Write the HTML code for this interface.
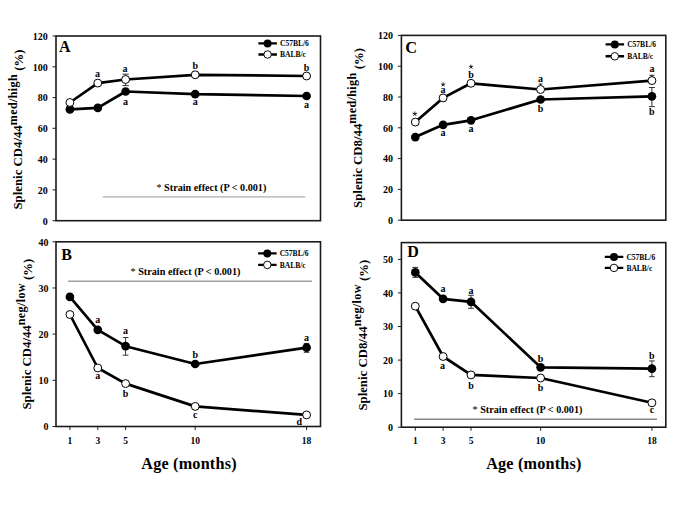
<!DOCTYPE html>
<html><head><meta charset="utf-8"><style>html,body{margin:0;padding:0;background:#fff;}body{width:685px;height:512px;overflow:hidden;font-family:"Liberation Serif",serif;}svg{display:block;}</style></head><body>
<svg width="685" height="512" viewBox="0 0 685 512" font-family='"Liberation Serif", serif' font-weight="bold" fill="#000">
<rect width="685" height="512" fill="#fff"/>
<rect x="56.0" y="36.0" width="264.5" height="184.7" fill="none" stroke="#1a1a1a" stroke-width="1.6"/><path d="M52.5 220.7H56.0" stroke="#222" stroke-width="1"/><text x="47.7" y="224.5" font-size="10" text-anchor="end" >0</text><path d="M52.5 189.9H56.0" stroke="#222" stroke-width="1"/><text x="47.7" y="193.7" font-size="10" text-anchor="end" >20</text><path d="M52.5 159.1H56.0" stroke="#222" stroke-width="1"/><text x="47.7" y="162.9" font-size="10" text-anchor="end" >40</text><path d="M52.5 128.3H56.0" stroke="#222" stroke-width="1"/><text x="47.7" y="132.2" font-size="10" text-anchor="end" >60</text><path d="M52.5 97.6H56.0" stroke="#222" stroke-width="1"/><text x="47.7" y="101.4" font-size="10" text-anchor="end" >80</text><path d="M52.5 66.8H56.0" stroke="#222" stroke-width="1"/><text x="47.7" y="70.6" font-size="10" text-anchor="end" >100</text><path d="M52.5 36.0H56.0" stroke="#222" stroke-width="1"/><text x="47.7" y="39.8" font-size="10" text-anchor="end" >120</text>
<rect x="56.0" y="241.8" width="264.5" height="184.7" fill="none" stroke="#1a1a1a" stroke-width="1.6"/><path d="M52.5 426.5H56.0" stroke="#222" stroke-width="1"/><text x="48.6" y="430.3" font-size="10" text-anchor="end" >0</text><path d="M52.5 380.3H56.0" stroke="#222" stroke-width="1"/><text x="48.6" y="384.1" font-size="10" text-anchor="end" >10</text><path d="M52.5 334.1H56.0" stroke="#222" stroke-width="1"/><text x="48.6" y="337.9" font-size="10" text-anchor="end" >20</text><path d="M52.5 288.0H56.0" stroke="#222" stroke-width="1"/><text x="48.6" y="291.8" font-size="10" text-anchor="end" >30</text><path d="M52.5 241.8H56.0" stroke="#222" stroke-width="1"/><text x="48.6" y="245.6" font-size="10" text-anchor="end" >40</text><path d="M69.9 426.5V430.0" stroke="#222" stroke-width="1"/><text x="69.9" y="444.3" font-size="9.5" text-anchor="middle" >1</text><path d="M97.8 426.5V430.0" stroke="#222" stroke-width="1"/><text x="97.8" y="444.3" font-size="9.5" text-anchor="middle" >3</text><path d="M125.6 426.5V430.0" stroke="#222" stroke-width="1"/><text x="125.6" y="444.3" font-size="9.5" text-anchor="middle" >5</text><path d="M195.2 426.5V430.0" stroke="#222" stroke-width="1"/><text x="195.2" y="444.3" font-size="9.5" text-anchor="middle" >10</text><path d="M306.6 426.5V430.0" stroke="#222" stroke-width="1"/><text x="306.6" y="444.3" font-size="9.5" text-anchor="middle" >18</text>
<rect x="401.4" y="35.4" width="264.4" height="184.8" fill="none" stroke="#1a1a1a" stroke-width="1.6"/><path d="M397.9 220.2H401.4" stroke="#222" stroke-width="1"/><text x="393.1" y="224.0" font-size="10" text-anchor="end" >0</text><path d="M397.9 189.4H401.4" stroke="#222" stroke-width="1"/><text x="393.1" y="193.2" font-size="10" text-anchor="end" >20</text><path d="M397.9 158.6H401.4" stroke="#222" stroke-width="1"/><text x="393.1" y="162.4" font-size="10" text-anchor="end" >40</text><path d="M397.9 127.8H401.4" stroke="#222" stroke-width="1"/><text x="393.1" y="131.6" font-size="10" text-anchor="end" >60</text><path d="M397.9 97.0H401.4" stroke="#222" stroke-width="1"/><text x="393.1" y="100.8" font-size="10" text-anchor="end" >80</text><path d="M397.9 66.2H401.4" stroke="#222" stroke-width="1"/><text x="393.1" y="70.0" font-size="10" text-anchor="end" >100</text><path d="M397.9 35.4H401.4" stroke="#222" stroke-width="1"/><text x="393.1" y="39.2" font-size="10" text-anchor="end" >120</text>
<rect x="401.4" y="242.6" width="264.4" height="184.6" fill="none" stroke="#1a1a1a" stroke-width="1.6"/><path d="M397.9 427.2H401.4" stroke="#222" stroke-width="1"/><text x="393.1" y="431.0" font-size="10" text-anchor="end" >0</text><path d="M397.9 393.6H401.4" stroke="#222" stroke-width="1"/><text x="393.1" y="397.4" font-size="10" text-anchor="end" >10</text><path d="M397.9 360.1H401.4" stroke="#222" stroke-width="1"/><text x="393.1" y="363.9" font-size="10" text-anchor="end" >20</text><path d="M397.9 326.5H401.4" stroke="#222" stroke-width="1"/><text x="393.1" y="330.3" font-size="10" text-anchor="end" >30</text><path d="M397.9 292.9H401.4" stroke="#222" stroke-width="1"/><text x="393.1" y="296.7" font-size="10" text-anchor="end" >40</text><path d="M397.9 259.4H401.4" stroke="#222" stroke-width="1"/><text x="393.1" y="263.2" font-size="10" text-anchor="end" >50</text><path d="M415.3 427.2V430.7" stroke="#222" stroke-width="1"/><text x="415.3" y="444.3" font-size="9.5" text-anchor="middle" >1</text><path d="M443.1 427.2V430.7" stroke="#222" stroke-width="1"/><text x="443.1" y="444.3" font-size="9.5" text-anchor="middle" >3</text><path d="M471.0 427.2V430.7" stroke="#222" stroke-width="1"/><text x="471.0" y="444.3" font-size="9.5" text-anchor="middle" >5</text><path d="M540.6 427.2V430.7" stroke="#222" stroke-width="1"/><text x="540.6" y="444.3" font-size="9.5" text-anchor="middle" >10</text><path d="M651.9 427.2V430.7" stroke="#222" stroke-width="1"/><text x="651.9" y="444.3" font-size="9.5" text-anchor="middle" >18</text>
<text x="59.0" y="51.8" font-size="16" text-anchor="start" >A</text>
<text x="61.3" y="259.8" font-size="16" text-anchor="start" >B</text>
<text x="405.2" y="52.6" font-size="16.4" text-anchor="start" >C</text>
<text x="407.3" y="256.8" font-size="16" text-anchor="start" >D</text>
<path d="M258.4 43.4h18.5M258.4 54.5h18.5" stroke="#000" stroke-width="2.4"/><circle cx="267.6" cy="43.4" r="4.00" fill="#000"/><circle cx="267.6" cy="54.5" r="3.75" fill="#fff" stroke="#000" stroke-width="0.95"/><text x="280.0" y="46.2" font-size="7.6" text-anchor="start" letter-spacing="-0.05">C57BL/6</text><text x="280.0" y="57.4" font-size="7.6" text-anchor="start" letter-spacing="-0.05">BALB/c</text>
<path d="M258.1 253.4h18.5M258.1 264.9h18.5" stroke="#000" stroke-width="2.4"/><circle cx="267.3" cy="253.4" r="4.00" fill="#000"/><circle cx="267.3" cy="264.9" r="3.75" fill="#fff" stroke="#000" stroke-width="0.95"/><text x="279.7" y="256.2" font-size="7.6" text-anchor="start" letter-spacing="-0.05">C57BL/6</text><text x="279.7" y="267.8" font-size="7.6" text-anchor="start" letter-spacing="-0.05">BALB/c</text>
<path d="M605.6 44.4h18.5M605.6 56.3h18.5" stroke="#000" stroke-width="2.4"/><circle cx="614.8" cy="44.4" r="4.00" fill="#000"/><circle cx="614.8" cy="56.3" r="3.75" fill="#fff" stroke="#000" stroke-width="0.95"/><text x="627.2" y="47.2" font-size="7.6" text-anchor="start" letter-spacing="-0.05">C57BL/6</text><text x="627.2" y="59.1" font-size="7.6" text-anchor="start" letter-spacing="-0.05">BALB/c</text>
<path d="M604.8 256.9h18.5M604.8 267.9h18.5" stroke="#000" stroke-width="2.4"/><circle cx="614.0" cy="256.9" r="4.00" fill="#000"/><circle cx="614.0" cy="267.9" r="3.75" fill="#fff" stroke="#000" stroke-width="0.95"/><text x="626.4" y="259.8" font-size="7.6" text-anchor="start" letter-spacing="-0.05">C57BL/6</text><text x="626.4" y="270.8" font-size="7.6" text-anchor="start" letter-spacing="-0.05">BALB/c</text>
<path d="M102.7 196.9H305.3" stroke="#c4c4c4" stroke-width="1.8"/>
<text x="211.4" y="191.2" font-size="10.2" text-anchor="middle" ><tspan font-weight='normal'>*</tspan> Strain effect (P &lt; 0.001)</text>
<path d="M68 281.3H312" stroke="#a0a0a0" stroke-width="1.6"/>
<text x="185.5" y="275.4" font-size="10.2" text-anchor="middle" ><tspan font-weight='normal'>*</tspan> Strain effect (P &lt; 0.001)</text>
<path d="M414 419.3H657" stroke="#888" stroke-width="1.4"/>
<text x="527.5" y="413.0" font-size="10.2" text-anchor="middle" ><tspan font-weight='normal'>*</tspan> Strain effect (P &lt; 0.001)</text>
<path d="M125.6 74.2V85.6M122.4 74.2H128.8M122.4 85.6H128.8" stroke="#2a2a2a" stroke-width="0.95" fill="none"/>
<polyline points="69.9,109.4 97.8,107.9 125.6,91.5 195.2,94.2 306.6,96.0" fill="none" stroke="#000" stroke-width="2.7" stroke-linejoin="round"/>
<polyline points="69.9,102.5 97.8,83.1 125.6,79.5 195.2,74.8 306.6,76.0" fill="none" stroke="#000" stroke-width="2.7" stroke-linejoin="round"/>
<circle cx="69.9" cy="109.4" r="4.35" fill="#000"/>
<circle cx="97.8" cy="107.9" r="4.35" fill="#000"/>
<circle cx="125.6" cy="91.5" r="4.35" fill="#000"/>
<circle cx="195.2" cy="94.2" r="4.35" fill="#000"/>
<circle cx="306.6" cy="96.0" r="4.35" fill="#000"/>
<circle cx="69.9" cy="102.5" r="3.95" fill="#fff" stroke="#000" stroke-width="1.0"/>
<circle cx="97.8" cy="83.1" r="3.95" fill="#fff" stroke="#000" stroke-width="1.0"/>
<circle cx="125.6" cy="79.5" r="3.95" fill="#fff" stroke="#000" stroke-width="1.0"/>
<circle cx="195.2" cy="74.8" r="3.95" fill="#fff" stroke="#000" stroke-width="1.0"/>
<circle cx="306.6" cy="76.0" r="3.95" fill="#fff" stroke="#000" stroke-width="1.0"/>
<text x="97.5" y="77.0" font-size="10" text-anchor="middle" >a</text>
<text x="125.0" y="72.0" font-size="10" text-anchor="middle" >a</text>
<text x="195.2" y="69.0" font-size="10" text-anchor="middle" >b</text>
<text x="306.6" y="71.0" font-size="10" text-anchor="middle" >b</text>
<text x="125.6" y="105.0" font-size="10" text-anchor="middle" >a</text>
<text x="195.2" y="105.0" font-size="10" text-anchor="middle" >a</text>
<text x="306.6" y="108.0" font-size="10" text-anchor="middle" >a</text>
<path d="M125.6 337.5V355.2M122.8 337.5H128.4M122.8 355.2H128.4" stroke="#2a2a2a" stroke-width="0.95" fill="none"/>
<path d="M306.6 343.4V352.3M303.8 343.4H309.3M303.8 352.3H309.3" stroke="#2a2a2a" stroke-width="0.95" fill="none"/>
<polyline points="69.9,296.9 97.8,329.8 125.6,346.2 195.2,364.0 306.6,347.7" fill="none" stroke="#000" stroke-width="2.7" stroke-linejoin="round"/>
<polyline points="69.9,314.5 97.8,368.0 125.6,383.6 195.2,406.4 306.6,414.9" fill="none" stroke="#000" stroke-width="2.7" stroke-linejoin="round"/>
<circle cx="69.9" cy="296.9" r="4.35" fill="#000"/>
<circle cx="97.8" cy="329.8" r="4.35" fill="#000"/>
<circle cx="125.6" cy="346.2" r="4.35" fill="#000"/>
<circle cx="195.2" cy="364.0" r="4.35" fill="#000"/>
<circle cx="306.6" cy="347.7" r="4.35" fill="#000"/>
<circle cx="69.9" cy="314.5" r="3.95" fill="#fff" stroke="#000" stroke-width="1.0"/>
<circle cx="97.8" cy="368.0" r="3.95" fill="#fff" stroke="#000" stroke-width="1.0"/>
<circle cx="125.6" cy="383.6" r="3.95" fill="#fff" stroke="#000" stroke-width="1.0"/>
<circle cx="195.2" cy="406.4" r="3.95" fill="#fff" stroke="#000" stroke-width="1.0"/>
<circle cx="306.6" cy="414.9" r="3.95" fill="#fff" stroke="#000" stroke-width="1.0"/>
<text x="97.8" y="322.7" font-size="10" text-anchor="middle" >a</text>
<text x="125.6" y="333.5" font-size="10" text-anchor="middle" >a</text>
<text x="195.2" y="357.8" font-size="10" text-anchor="middle" >b</text>
<text x="306.6" y="340.6" font-size="10" text-anchor="middle" >a</text>
<text x="97.8" y="379.3" font-size="10" text-anchor="middle" >a</text>
<text x="125.6" y="397.0" font-size="10" text-anchor="middle" >b</text>
<text x="195.2" y="418.0" font-size="10" text-anchor="middle" >c</text>
<text x="299.3" y="425.4" font-size="10" text-anchor="middle" >d</text>
<path d="M651.9 87.5V106.6M648.9 87.5H654.9M648.9 106.6H654.9" stroke="#2a2a2a" stroke-width="0.95" fill="none"/>
<path d="M538.8 84H542.4M540.6 84V86" stroke="#000" stroke-width="0.9"/>
<path d="M649.4 75.3H654.4M651.9 75.3V78" stroke="#000" stroke-width="0.9"/>
<polyline points="415.3,137.1 443.1,124.8 471.0,120.3 540.6,99.5 651.9,96.3" fill="none" stroke="#000" stroke-width="2.7" stroke-linejoin="round"/>
<polyline points="415.3,122.1 443.1,97.9 471.0,83.3 540.6,89.5 651.9,80.6" fill="none" stroke="#000" stroke-width="2.7" stroke-linejoin="round"/>
<circle cx="415.3" cy="137.1" r="4.35" fill="#000"/>
<circle cx="443.1" cy="124.8" r="4.35" fill="#000"/>
<circle cx="471.0" cy="120.3" r="4.35" fill="#000"/>
<circle cx="540.6" cy="99.5" r="4.35" fill="#000"/>
<circle cx="651.9" cy="96.3" r="4.35" fill="#000"/>
<circle cx="415.3" cy="122.1" r="3.95" fill="#fff" stroke="#000" stroke-width="1.0"/>
<circle cx="443.1" cy="97.9" r="3.95" fill="#fff" stroke="#000" stroke-width="1.0"/>
<circle cx="471.0" cy="83.3" r="3.95" fill="#fff" stroke="#000" stroke-width="1.0"/>
<circle cx="540.6" cy="89.5" r="3.95" fill="#fff" stroke="#000" stroke-width="1.0"/>
<circle cx="651.9" cy="80.6" r="3.95" fill="#fff" stroke="#000" stroke-width="1.0"/>
<path d="M414.82 113.90L414.82 111.90M414.82 113.90L416.72 113.28M414.82 113.90L415.99 115.52M414.82 113.90L413.64 115.52M414.82 113.90L412.91 113.28" stroke="#222" stroke-width="1.0" stroke-linecap="round" fill="none"/>
<path d="M443.15 84.60L443.15 82.80M443.15 84.60L444.86 84.04M443.15 84.60L444.21 86.06M443.15 84.60L442.09 86.06M443.15 84.60L441.44 84.04" stroke="#222" stroke-width="1.0" stroke-linecap="round" fill="none"/>
<path d="M470.98 66.80L470.98 65.00M470.98 66.80L472.69 66.24M470.98 66.80L472.04 68.26M470.98 66.80L469.92 68.26M470.98 66.80L469.27 66.24" stroke="#222" stroke-width="1.0" stroke-linecap="round" fill="none"/>
<text x="443.1" y="92.5" font-size="10" text-anchor="middle" >a</text>
<text x="471.0" y="78.4" font-size="10" text-anchor="middle" >b</text>
<text x="540.6" y="82.2" font-size="10" text-anchor="middle" >a</text>
<text x="651.9" y="72.1" font-size="10" text-anchor="middle" >a</text>
<text x="443.1" y="136.1" font-size="10" text-anchor="middle" >a</text>
<text x="471.0" y="131.6" font-size="10" text-anchor="middle" >a</text>
<text x="540.6" y="112.4" font-size="10" text-anchor="middle" >b</text>
<text x="651.9" y="115.4" font-size="10" text-anchor="middle" >b</text>
<path d="M415.3 267.4V277.4M412.3 267.4H418.3M412.3 277.4H418.3" stroke="#2a2a2a" stroke-width="0.95" fill="none"/>
<path d="M471.0 295.3V308.3M468.1 295.3H473.9M468.1 308.3H473.9" stroke="#2a2a2a" stroke-width="0.95" fill="none"/>
<path d="M651.9 360.9V376.7M649.1 360.9H654.7M649.1 376.7H654.7" stroke="#2a2a2a" stroke-width="0.95" fill="none"/>
<polyline points="415.3,272.4 443.1,298.8 471.0,301.8 540.6,367.3 651.9,368.7" fill="none" stroke="#000" stroke-width="2.7" stroke-linejoin="round"/>
<polyline points="415.3,306.2 443.1,356.5 471.0,374.9 540.6,378.0 651.9,402.8" fill="none" stroke="#000" stroke-width="2.7" stroke-linejoin="round"/>
<circle cx="415.3" cy="272.4" r="4.35" fill="#000"/>
<circle cx="443.1" cy="298.8" r="4.35" fill="#000"/>
<circle cx="471.0" cy="301.8" r="4.35" fill="#000"/>
<circle cx="540.6" cy="367.3" r="4.35" fill="#000"/>
<circle cx="651.9" cy="368.7" r="4.35" fill="#000"/>
<circle cx="415.3" cy="306.2" r="3.95" fill="#fff" stroke="#000" stroke-width="1.0"/>
<circle cx="443.1" cy="356.5" r="3.95" fill="#fff" stroke="#000" stroke-width="1.0"/>
<circle cx="471.0" cy="374.9" r="3.95" fill="#fff" stroke="#000" stroke-width="1.0"/>
<circle cx="540.6" cy="378.0" r="3.95" fill="#fff" stroke="#000" stroke-width="1.0"/>
<circle cx="651.9" cy="402.8" r="3.95" fill="#fff" stroke="#000" stroke-width="1.0"/>
<text x="443.1" y="291.9" font-size="10" text-anchor="middle" >a</text>
<text x="471.0" y="293.8" font-size="10" text-anchor="middle" >a</text>
<text x="540.6" y="362.4" font-size="10" text-anchor="middle" >b</text>
<text x="651.9" y="359.1" font-size="10" text-anchor="middle" >b</text>
<text x="442.6" y="368.6" font-size="10" text-anchor="middle" >a</text>
<text x="471.0" y="388.8" font-size="10" text-anchor="middle" >b</text>
<text x="540.6" y="391.3" font-size="10" text-anchor="middle" >b</text>
<text x="651.9" y="413.2" font-size="10" text-anchor="middle" >c</text>
<text x="189.0" y="469.2" font-size="16.2" text-anchor="middle" letter-spacing="0.2">Age (months)</text>
<text x="533.9" y="469.2" font-size="16.2" text-anchor="middle" letter-spacing="0.2">Age (months)</text>
<text transform="translate(22.4,209.5) rotate(-90)" font-size="12.8">Splenic CD4/44<tspan dy="-5.9" font-size="12.1" letter-spacing="0.35">med/high</tspan><tspan dy="6.9"> (%)</tspan></text>
<text transform="translate(30.9,409.5) rotate(-90)" font-size="12.8">Splenic CD4/44<tspan dy="-5.9" font-size="12.1" letter-spacing="0.35">neg/low</tspan><tspan dy="6.9"> (%)</tspan></text>
<text transform="translate(362.1,207.9) rotate(-90)" font-size="12.8">Splenic CD8/44<tspan dy="-5.9" font-size="12.1" letter-spacing="0.35">med/high</tspan><tspan dy="6.9"> (%)</tspan></text>
<text transform="translate(366.6,410.6) rotate(-90)" font-size="12.8">Splenic CD8/44<tspan dy="-5.9" font-size="12.1" letter-spacing="0.35">neg/low</tspan><tspan dy="6.9"> (%)</tspan></text>
</svg>
</body></html>
